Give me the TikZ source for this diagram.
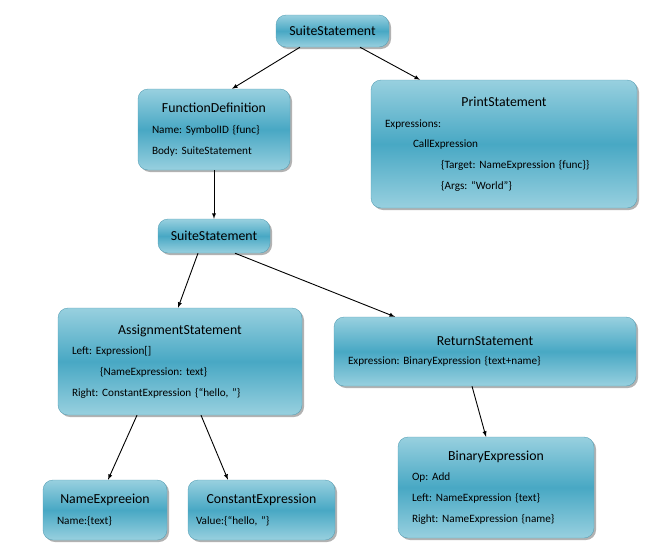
\documentclass[tikz,border=0pt]{standalone}
\usepackage{fontspec}
\setmainfont{Carlito}
\usetikzlibrary{shadows}
\definecolor{boxtop}{RGB}{152,208,223}
\definecolor{boxmid}{RGB}{72,168,196}
\definecolor{boxedge}{RGB}{88,160,182}
\newcommand{\ttl}[1]{\makebox[\linewidth][c]{\fontsize{13.8}{16}\selectfont #1}}
\frenchspacing

\begin{document}
\begin{tikzpicture}[x=1pt,y=-1pt,
    box/.style={draw=boxedge, rounded corners=10pt,
      top color=boxtop, bottom color=boxtop, middle color=boxmid,
      drop shadow={shadow xshift=2pt,shadow yshift=-2pt,fill=black!60},
      align=left, inner xsep=14pt, inner ysep=0pt,
      font=\fontsize{11.2}{20.7}\selectfont, text=black},
    link/.style={-latex, line width=0.9pt}]
    \useasboundingbox (0,0) rectangle (663,557);
    % top level
    \node[box, text width=85, minimum height=32] (suiteA) at (332.5,31) {\ttl{SuiteStatement}};
    \node[box, text width=124, minimum height=81] (funcdef) at (214,129.5)
      {\ttl{FunctionDefinition}\\Name: SymbolID {\{}func\}\\Body: SuiteStatement};
    \node[box, text width=238, minimum height=128] (printst) at (504,144)
      {\ttl{PrintStatement}\\Expressions:\\\hspace*{28pt}CallExpression\\
       \hspace*{56pt}\{Target: NameExpression \{func\}\}\\\hspace*{56pt}\{Args: “World”\}};
    % function body
    \node[box, text width=84, minimum height=34] (suiteB) at (214,236) {\ttl{SuiteStatement}};
    \node[box, text width=216, minimum height=107] (assignst) at (180,361.5)
      {\ttl{AssignmentStatement}\\Left: Expression[]\\\hspace*{28pt}\{NameExpression: text\}\\
       Right: ConstantExpression \{“hello, ”\}};
    \node[box, text width=274, minimum height=69] (returnst) at (485,351.5)
      {\ttl{ReturnStatement}\\[-1pt]Expression: BinaryExpression \{text+name\}};
    % leaves
    \node[box, text width=96, minimum height=60] (namex) at (105,510)
      {\ttl{NameExpreeion}\\Name:\{text\}};
    \node[box, text width=131, inner xsep=8pt, minimum height=60] (constx) at (261.5,510)
      {\ttl{ConstantExpression}\\Value:\{“hello, ”\}};
    \node[box, text width=168, minimum height=101] (binx) at (496,487.5)
      {\ttl{BinaryExpression}\\Op: Add\\Left: NameExpression \{text\}\\Right: NameExpression \{name\}};

    \draw[link] ([xshift=-32.5pt]suiteA.south) -- ([xshift=18pt]funcdef.north);
    \draw[link] ([xshift=27.5pt]suiteA.south) -- ([xshift=-84pt]printst.north);
    \draw[link] (funcdef.south) -- (suiteB.north);
    \draw[link] ([xshift=-16pt]suiteB.south) -- ([xshift=-2pt]assignst.north);
    \draw[link] ([xshift=21pt]suiteB.south) -- ([xshift=-90pt]returnst.north);
    \draw[link] ([xshift=-43pt]assignst.south) -- ([xshift=3pt]namex.north);
    \draw[link] ([xshift=21pt]assignst.south) -- ([xshift=-33.5pt]constx.north);
    \draw[link] ([xshift=-13pt]returnst.south) -- ([xshift=-10pt]binx.north);
\end{tikzpicture}
\end{document}
